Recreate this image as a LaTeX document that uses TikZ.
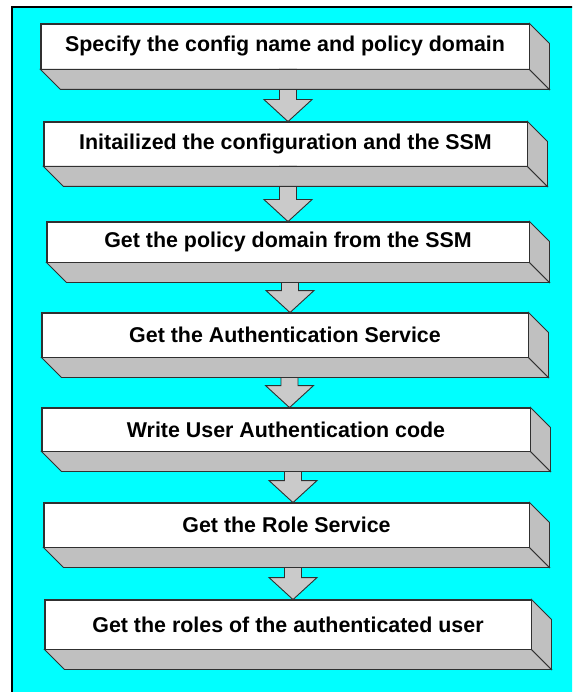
\documentclass[tikz,border=0pt]{standalone}
\usepackage{fontspec}
\setmainfont{Liberation Sans}
\usetikzlibrary{calc}
\definecolor{bgcyan}{HTML}{00FFFF}
\definecolor{sidegray}{HTML}{C0C0C0}
\definecolor{arrgray}{HTML}{CACACA}
\definecolor{edgegray}{HTML}{303030}
\tikzset{
  stepbox/.style={draw=edgegray, line width=0.9pt, fill=white, rectangle, inner sep=0pt,
    font=\fontsize{21.4}{24}\selectfont\bfseries, text=black},
  sideface/.style={draw=edgegray, line width=0.9pt, fill=sidegray, line join=miter},
  flowarrow/.style={draw=edgegray, line width=0.9pt, fill=arrgray, line join=miter},
}
\newcommand{\extrude}[1]{%
  \path[sideface] (#1.south west) -- ++(20pt,-20pt) -- ($(#1.south east)+(20pt,-20pt)$) -- (#1.south east) -- cycle;
  \path[sideface] (#1.north east) -- ++(20pt,-20pt) -- ($(#1.south east)+(20pt,-20pt)$) -- (#1.south east) -- cycle;
}
\newcommand{\flowarr}[3]{% from, to, x offset of the arrow axis from the box centre
  \path[flowarrow] let \p1=($(#1.south)+(#3pt,0)$), \p2=($(#2.north)+(#3pt,0)$) in
    (\x1-8.5pt,\y1) -- (\x1-8.5pt,\y2+22pt) -- (\x1-24pt,\y2+22pt) -- (\x1,\y2)
    -- (\x1+24pt,\y2+22pt) -- (\x1+8.5pt,\y2+22pt) -- (\x1+8.5pt,\y1) -- cycle;
}
\begin{document}
\begin{tikzpicture}[x=1pt,y=-1pt]
\useasboundingbox (0,0) rectangle (572,692);
\clip (0,0) rectangle (572,692);
\fill[white] (0,0) rectangle (572,692);
\draw[line width=2.4pt, fill=bgcyan] (12,7) rectangle (600,720);

\node[stepbox, minimum width=488pt, minimum height=45pt] (b1) at (285,46.5) {Specify the config name and policy domain};
\node[stepbox, minimum width=483pt, minimum height=44pt] (b2) at (285.5,144) {Initailized the configuration and the SSM};
\node[stepbox, minimum width=482pt, minimum height=40pt] (b3) at (288,242) {Get the policy domain from the SSM};
\node[stepbox, minimum width=486pt, minimum height=44pt] (b4) at (285,335) {Get the Authentication Service};
\node[stepbox, minimum width=488pt, minimum height=43pt] (b5) at (286,429.5) {Write User Authentication code};
\node[stepbox, minimum width=485pt, minimum height=44pt] (b6) at (286.5,525) {Get the Role Service};
\node[stepbox, minimum width=486pt, minimum height=49pt] (b7) at (288,624.5) {Get the roles of the authenticated user};

\flowarr{b1}{b2}{3}
\flowarr{b2}{b3}{2.5}
\flowarr{b3}{b4}{2}
\flowarr{b4}{b5}{4.5}
\flowarr{b5}{b6}{7}
\flowarr{b6}{b7}{6.5}

\extrude{b1}
\extrude{b2}
\extrude{b3}
\extrude{b4}
\extrude{b5}
\extrude{b6}
\extrude{b7}

% redraw fronts on top so edges are crisp
\foreach \n in {b1,b2,b3,b4,b5,b6,b7}{
  \draw[draw=edgegray, line width=0.9pt] (\n.south west) rectangle (\n.north east);
}
\end{tikzpicture}
\end{document}
